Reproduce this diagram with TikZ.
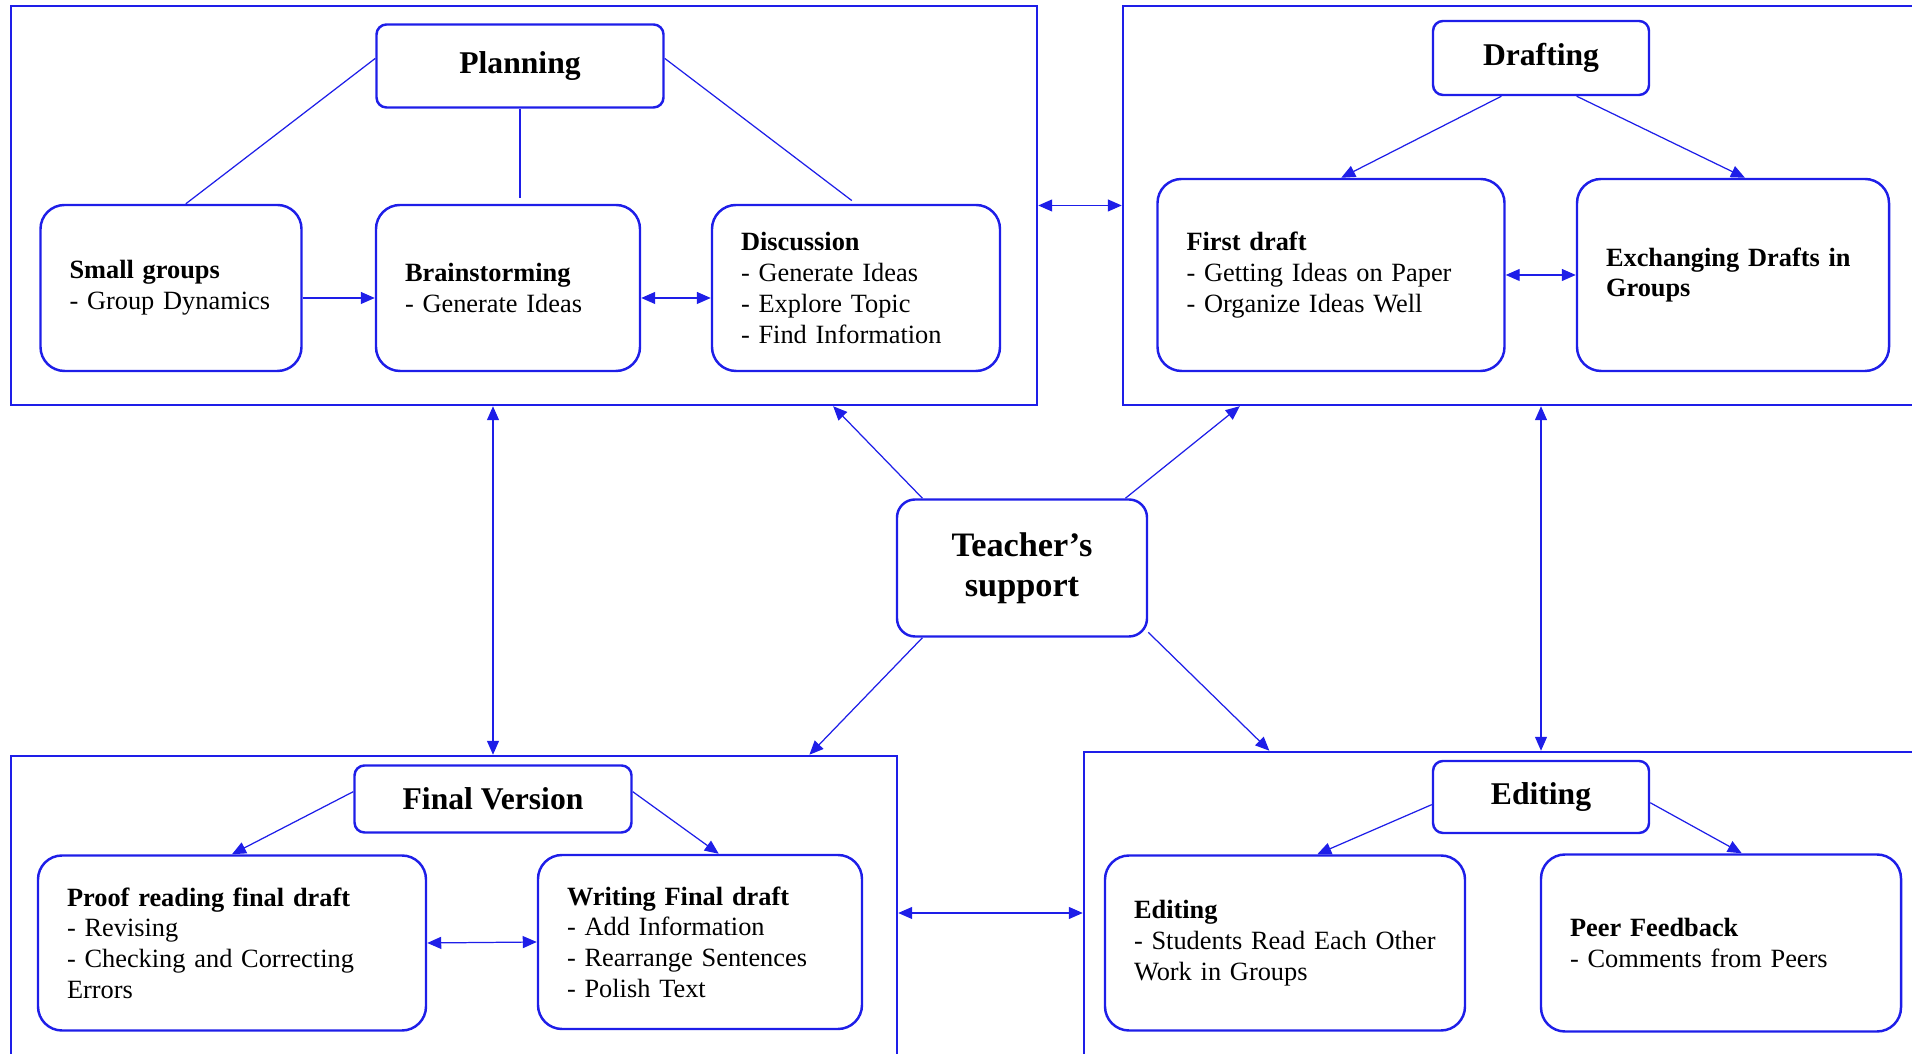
\documentclass[tikz,border=0pt]{standalone}
\usepackage{fontspec}
\setmainfont{Liberation Serif}
\usetikzlibrary{arrows.meta,positioning}
\definecolor{stageblue}{RGB}{30,30,232}

\begin{document}
\begin{tikzpicture}[
every node/.style={font=\fontsize{15}{17.5}\selectfont},
stageframe/.style={draw=stageblue, line width=1.4pt, inner sep=0pt},
headbox/.style={draw=stageblue, rounded corners=0.2cm, line width=1.4pt, inner sep=0pt, font=\fontsize{18}{21}\selectfont\bfseries},
subbox/.style={draw=stageblue, rounded corners=0.48cm, line width=1.4pt, align=left, inner xsep=0.58cm, inner ysep=0pt},
support/.style={draw=stageblue, rounded corners=0.36cm, line width=1.4pt, align=center, inner sep=0pt, minimum width=5cm, minimum height=2.74cm, font=\fontsize{19.5}{23}\selectfont\bfseries},
link/.style={draw=stageblue, line width=0.7pt},
arrow/.style={link, -{Triangle[length=0.28cm, width=0.24cm]}},
biarrow/.style={link, {Triangle[length=0.28cm, width=0.24cm]}-{Triangle[length=0.28cm, width=0.24cm]}}
]
\useasboundingbox (0,0) rectangle (38.24,21.08);

% Planning stage
\node[stageframe, minimum width=20.52cm, minimum height=7.98cm] (planframe) at (10.48,16.97) {};
\node[headbox, minimum width=5.74cm, minimum height=1.66cm] (planning) at (10.40,19.76) {Planning};
\node[subbox, text width=4.06cm, minimum height=3.32cm] (smallgroups) at (3.42,15.32) {\textbf{Small groups}\\- Group Dynamics};
\node[subbox, text width=4.12cm, minimum height=3.32cm] (brainstorm) at (10.16,15.32) {\textbf{Brainstorming}\\- Generate Ideas};
\node[subbox, text width=4.60cm, minimum height=3.32cm] (discussion) at (17.12,15.32) {\textbf{Discussion}\\- Generate Ideas\\- Explore Topic\\- Find Information};

\draw[link] (planning.177) -- (smallgroups.80);
\draw[link, shorten >=3pt] (planning.south) -- (planning.south |- brainstorm.north);
\draw[link, shorten >=3pt] (planning.3) -- (discussion.north);
\draw[arrow] ([yshift=-0.2cm]smallgroups.east) -- ([yshift=-0.2cm]brainstorm.west);
\draw[biarrow] ([yshift=-0.2cm]brainstorm.east) -- ([yshift=-0.2cm]discussion.west);

% Drafting stage
\node[stageframe, minimum width=16.14cm, minimum height=7.98cm] (draftframe) at (30.53,16.97) {};
\node[headbox, minimum width=4.32cm, minimum height=1.48cm] (drafting) at (30.82,19.92) {Drafting};
\node[subbox, text width=5.78cm, minimum height=3.84cm] (firstdraft) at (26.62,15.58) {\textbf{First draft}\\- Getting Ideas on Paper\\- Organize Ideas Well};
\node[subbox, text width=5.08cm, minimum height=3.84cm] (exchange) at (34.66,15.58) {\textbf{Exchanging Drafts in}\\\textbf{Groups}};

\draw[arrow] (drafting.224) -- (firstdraft.84);
\draw[arrow] (drafting.313) -- (exchange.83);
\draw[biarrow] (firstdraft.east) -- (exchange.west);
\draw[biarrow] (planframe.east) -- (draftframe.west);

% Final version stage
\node[stageframe, minimum width=17.72cm, minimum height=6.28cm] (finalframe) at (9.08,2.82) {};
\node[headbox, minimum width=5.54cm, minimum height=1.34cm] (finalver) at (9.86,5.10) {Final Version};
\node[subbox, text width=6.60cm, minimum height=3.50cm] (proofread) at (4.64,2.22) {\textbf{Proof reading final draft}\\- Revising\\- Checking and Correcting\\Errors};
\node[subbox, text width=5.32cm, minimum height=3.48cm] (writefinal) at (14.00,2.24) {\textbf{Writing Final draft}\\- Add Information\\- Rearrange Sentences\\- Polish Text};

\draw[arrow] (finalver.177) -- (proofread.north);
\draw[arrow] (finalver.3) -- (writefinal.78);
\draw[biarrow] (proofread.east) -- (writefinal.west);

% Editing stage
\node[stageframe, minimum width=16.92cm, minimum height=6.36cm] (editframe) at (30.14,2.86) {};
\node[headbox, minimum width=4.32cm, minimum height=1.44cm] (editing) at (30.82,5.14) {Editing};
\node[subbox, text width=6.04cm, minimum height=3.50cm] (editsub) at (25.70,2.22) {\textbf{Editing}\\- Students Read Each Other\\Work in Groups};
\node[subbox, text width=6.04cm, minimum height=3.54cm] (peerfb) at (34.42,2.22) {\textbf{Peer Feedback}\\- Comments from Peers};

\draw[arrow] (editing.184) -- (editsub.70);
\draw[arrow] (editing.357) -- (peerfb.77);
\draw[biarrow] (finalframe.east) -- (finalframe.east -| editframe.west);

% Links between stages
\draw[biarrow] (finalver.north |- planframe.south) -- (finalver.north |- finalframe.north);
\draw[biarrow] (drafting.south |- draftframe.south) -- (editing.north |- editframe.north);

% Teacher's support in the middle
\node[support] (teacher) at (20.44,9.72) {Teacher’s\\support};
\draw[arrow] (teacher.145) -- (planframe.327);
\draw[arrow] (teacher.34) -- (draftframe.215);
\draw[arrow] (teacher.215) -- (finalframe.24);
\draw[arrow] (teacher.333) -- (editframe.146);

\end{tikzpicture}
\end{document}
